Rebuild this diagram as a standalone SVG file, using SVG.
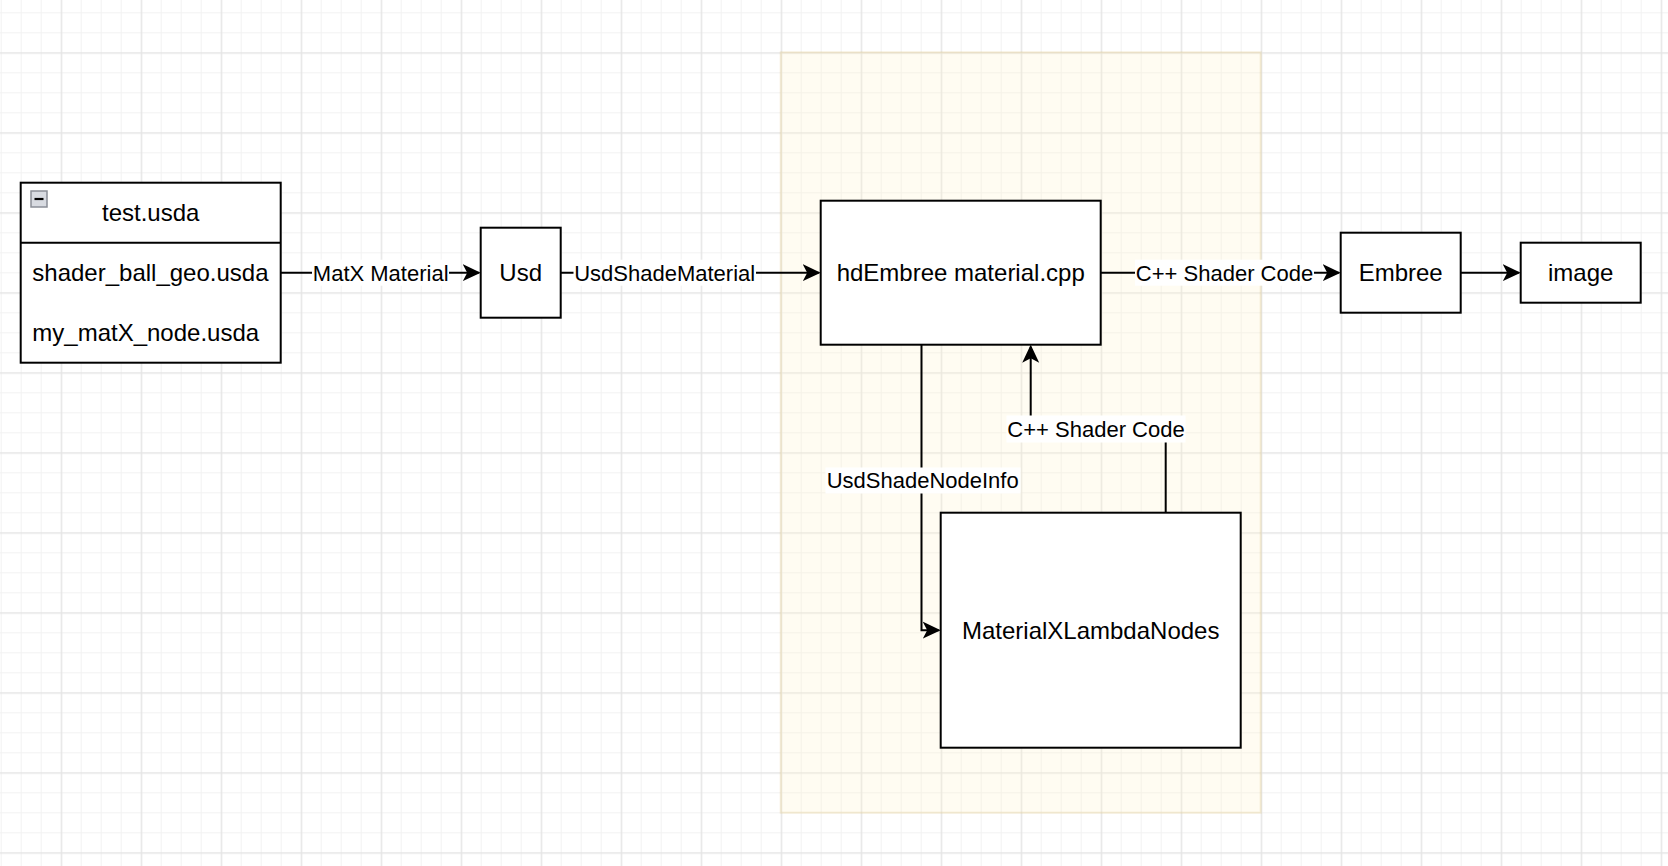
<svg xmlns="http://www.w3.org/2000/svg" width="1668" height="866" viewBox="0 0 1668 866">
<style>
.node{fill:#ffffff;stroke:#000000;stroke-width:2}
.nt{font-family:"Liberation Sans",Arial,Helvetica,sans-serif;font-size:24px;fill:#000000}
.lt{font-family:"Liberation Sans",Arial,Helvetica,sans-serif;font-size:22px;fill:#000000;text-anchor:middle}
.edge{fill:none;stroke:#000000;stroke-width:2}
.lbg{fill:#ffffff}
</style>
<defs>
<pattern id="grid" patternUnits="userSpaceOnUse" x="60.7" y="52.3" width="80" height="80">
<rect x="20" y="0" width="1" height="80" fill="#f2f2f2"/>
<rect x="40" y="0" width="1" height="80" fill="#f2f2f2"/>
<rect x="60" y="0" width="1" height="80" fill="#f2f2f2"/>
<rect x="0" y="20" width="80" height="1" fill="#f2f2f2"/>
<rect x="0" y="40" width="80" height="1" fill="#f2f2f2"/>
<rect x="0" y="60" width="80" height="1" fill="#f2f2f2"/>
<rect x="0" y="0" width="1.4" height="80" fill="#e4e4e4"/>
<rect x="0" y="0" width="80" height="1.4" fill="#e4e4e4"/>
</pattern>
<marker id="arr" markerUnits="userSpaceOnUse" markerWidth="18" markerHeight="18" viewBox="0 0 18 18" refX="16" refY="9" orient="auto">
<path d="M0,0.5 L18,9 L0,17.5 L4.5,9 Z" fill="#000000"/>
</marker>
</defs>
<rect x="0" y="0" width="1668" height="866" fill="#ffffff"/>
<rect x="0" y="0" width="1668" height="866" fill="url(#grid)"/>
<g id="region">
<rect x="780.7" y="52.3" width="480" height="760.4" fill="#fff2cc" fill-opacity="0.25" stroke="#d6b656" stroke-opacity="0.2" stroke-width="2"/>
</g>
<g id="connectors">
<path class="edge" d="M280.7,272.7 H478.7" marker-end="url(#arr)"/>
<path class="edge" d="M560.7,272.7 H818.7" marker-end="url(#arr)"/>
<path class="edge" d="M1100.7,272.7 H1338.7" marker-end="url(#arr)"/>
<path class="edge" d="M1460.7,272.7 H1518.7" marker-end="url(#arr)"/>
<path class="edge" d="M921.5,344.7 V630.2 H938.7" marker-end="url(#arr)"/>
<path class="edge" d="M1165.7,512.7 V429 H1030.7 V346.7" marker-end="url(#arr)"/>
<rect class="lbg" x="312" y="259.7" width="137" height="26"/>
<text class="lt" x="380.7" y="280.5">MatX Material</text>
<rect class="lbg" x="573.5" y="259.7" width="182.5" height="26"/>
<text class="lt" x="664.7" y="280.5">UsdShadeMaterial</text>
<rect class="lbg" x="1135" y="259.7" width="179" height="26"/>
<text class="lt" x="1224.5" y="280.5">C++ Shader Code</text>
<rect class="lbg" x="825.5" y="467.5" width="195" height="26"/>
<text class="lt" x="922.7" y="488.2">UsdShadeNodeInfo</text>
<rect class="lbg" x="1006.5" y="415.5" width="179" height="27"/>
<text class="lt" x="1096" y="436.8">C++ Shader Code</text>
</g>
<g id="node-test-usda">
<rect class="node" x="20.7" y="182.7" width="260" height="180"/>
<line x1="20.7" y1="242.7" x2="280.7" y2="242.7" stroke="#000000" stroke-width="2"/>
<rect x="31" y="191" width="16" height="16" fill="#d8dbe1" stroke="#8a8e97" stroke-width="1.5"/>
<line x1="34.5" y1="199" x2="43.5" y2="199" stroke="#000000" stroke-width="2.2"/>
<text class="nt" x="150.7" y="221.3" text-anchor="middle">test.usda</text>
<text class="nt" x="32.3" y="281.2">shader_ball_geo.usda</text>
<text class="nt" x="32.3" y="341.2">my_matX_node.usda</text>
</g>
<g id="node-usd">
<rect class="node" x="480.7" y="227.7" width="80" height="90"/>
<text class="nt" x="520.7" y="281.2" text-anchor="middle">Usd</text>
</g>
<g id="node-hdembree">
<rect class="node" x="820.7" y="200.7" width="280" height="144"/>
<text class="nt" x="960.7" y="281.2" text-anchor="middle">hdEmbree material.cpp</text>
</g>
<g id="node-embree">
<rect class="node" x="1340.7" y="232.7" width="120" height="80"/>
<text class="nt" x="1400.7" y="281.2" text-anchor="middle">Embree</text>
</g>
<g id="node-image">
<rect class="node" x="1520.7" y="242.7" width="120" height="60"/>
<text class="nt" x="1580.7" y="281.2" text-anchor="middle">image</text>
</g>
<g id="node-materialx">
<rect class="node" x="940.7" y="512.7" width="300" height="235"/>
<text class="nt" x="1090.7" y="638.7" text-anchor="middle">MaterialXLambdaNodes</text>
</g>
</svg>
